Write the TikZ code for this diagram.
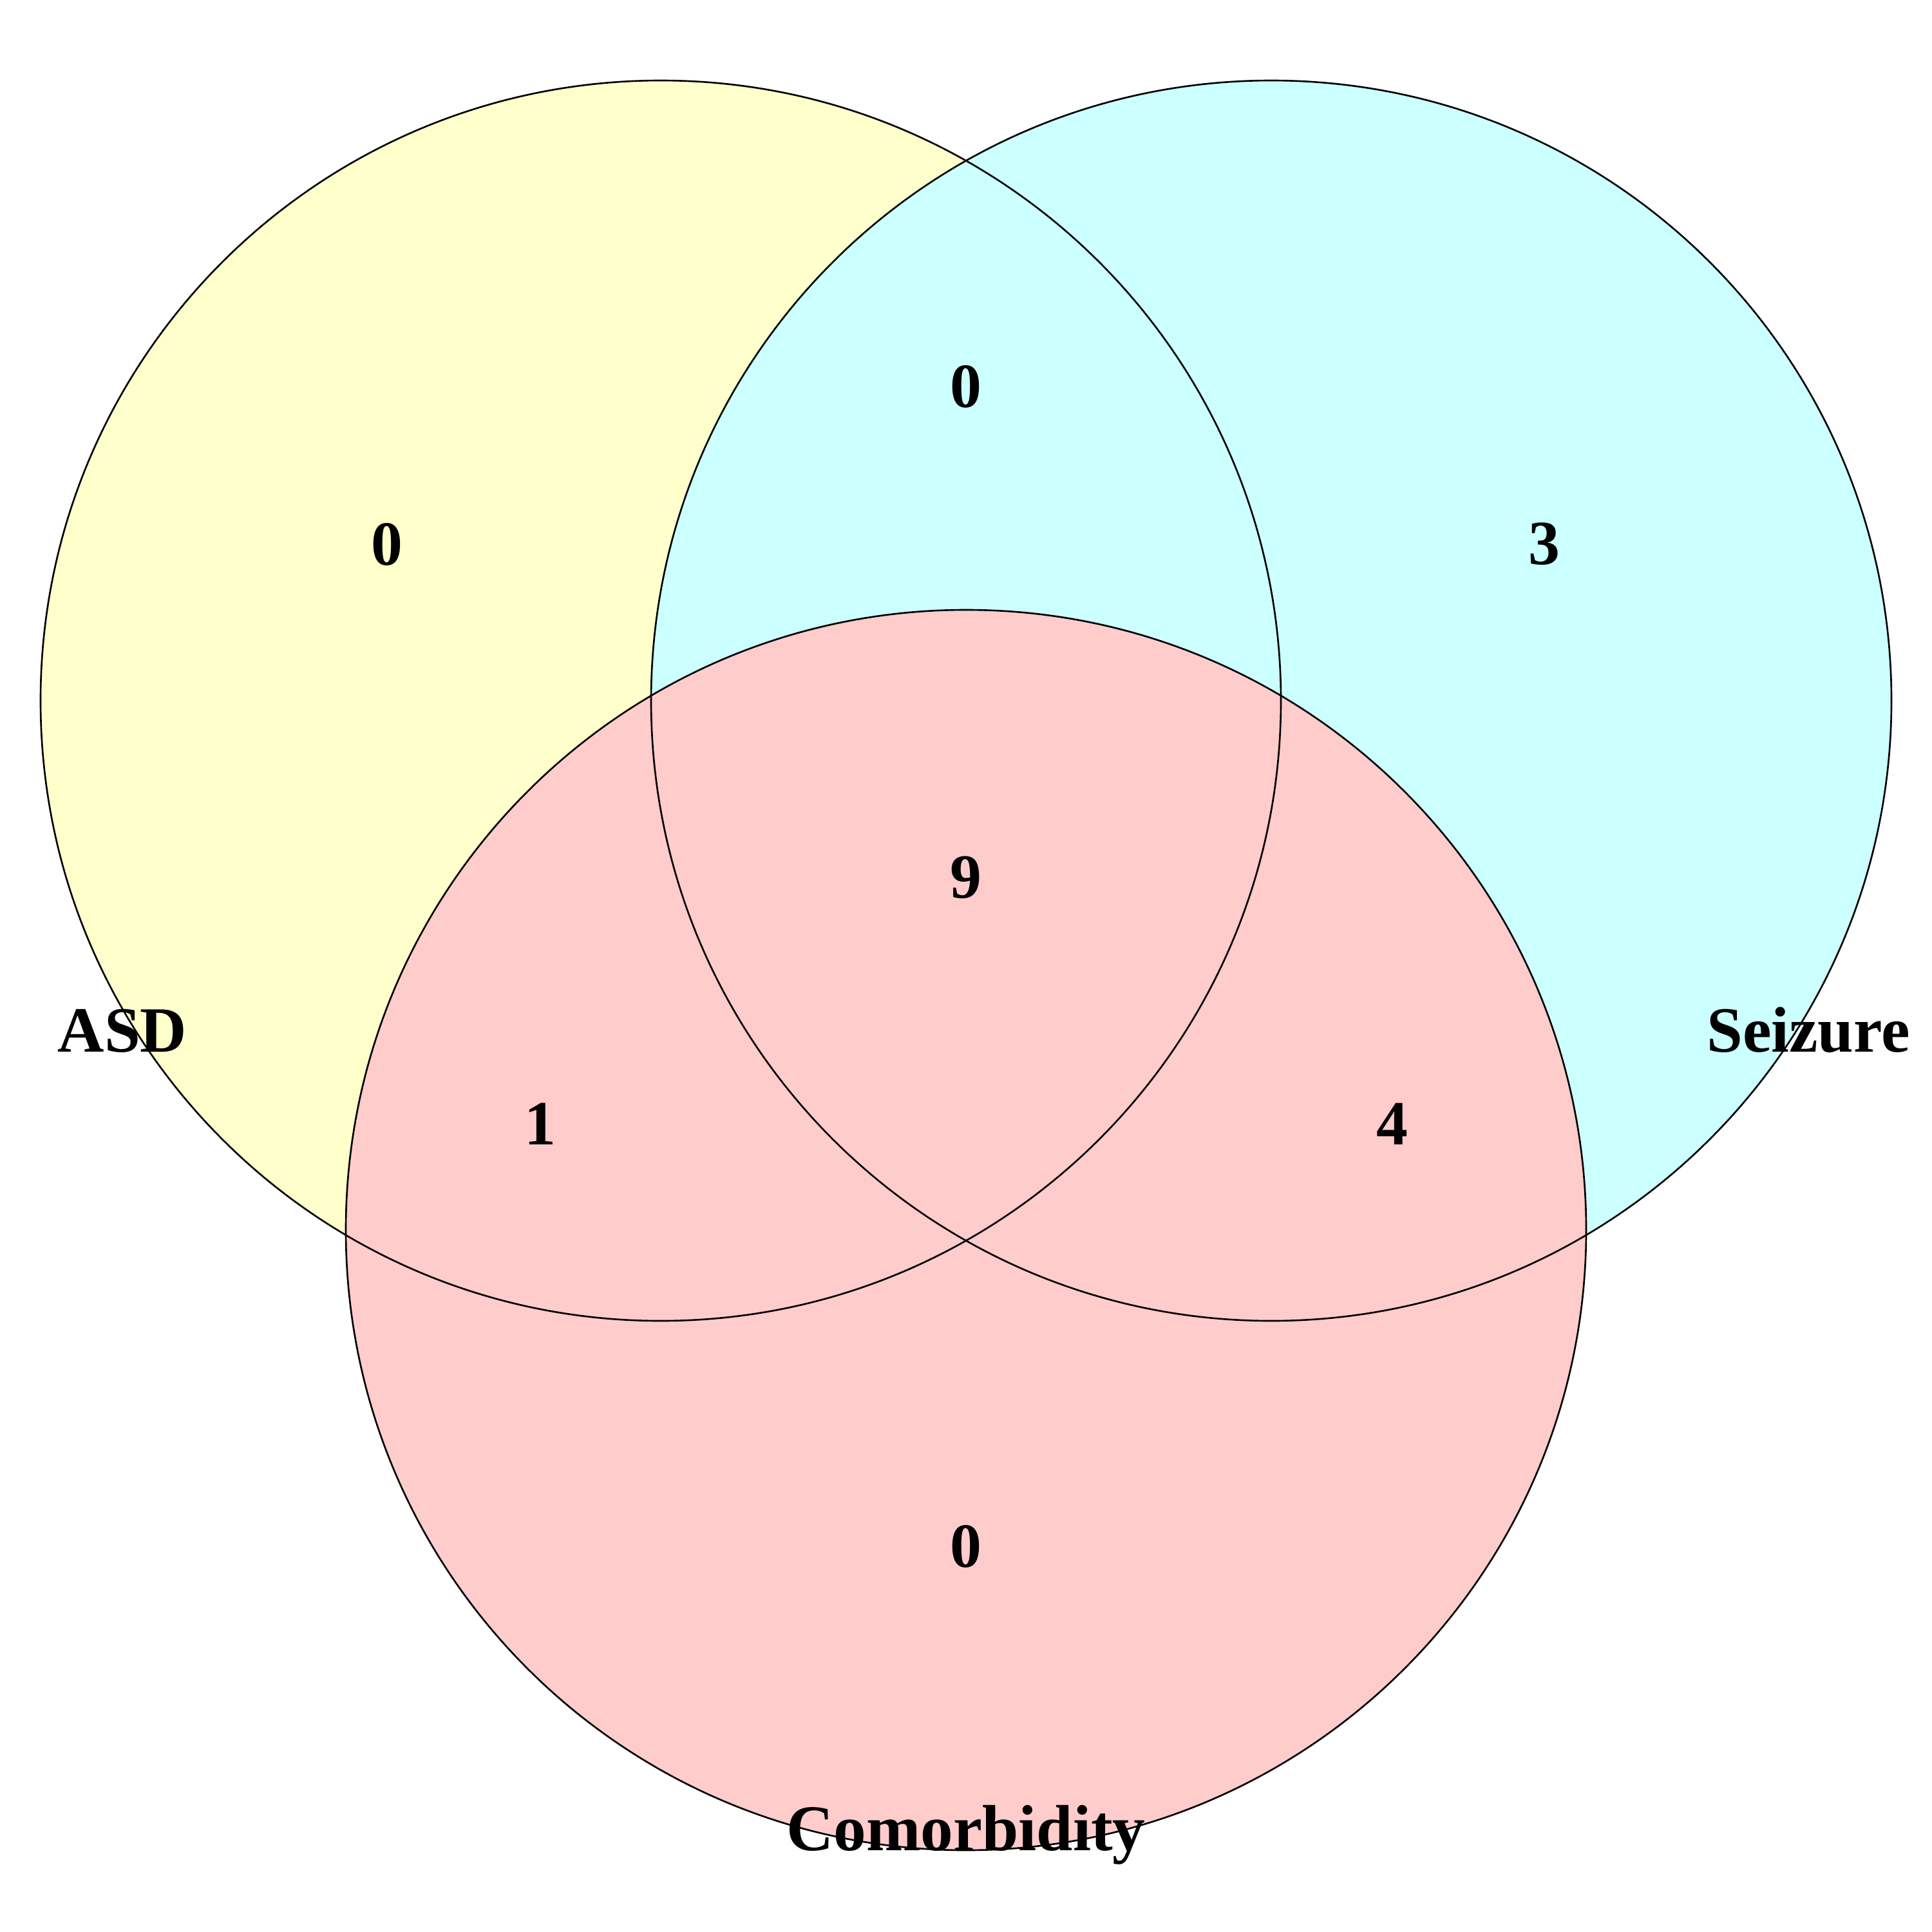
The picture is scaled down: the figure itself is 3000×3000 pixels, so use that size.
\documentclass[tikz,border=0pt]{standalone}
\usepackage{fontspec}
\setmainfont{Liberation Serif}
\begin{document}
\begin{tikzpicture}[x=0.01cm,y=-0.01cm,
  setline/.style={draw=black,line width=0.75pt,fill=none},
  count/.style={font=\fontsize{27.8}{33}\selectfont\bfseries,inner sep=0pt,anchor=center},
  setname/.style={font=\fontsize{28.5}{34}\selectfont\bfseries,inner sep=0pt,anchor=base}]
\useasboundingbox (0,0) rectangle (3000,3000);
\definecolor{asdcol}{RGB}{255,255,204}
\definecolor{seicol}{RGB}{204,255,255}
\definecolor{comcol}{RGB}{255,204,204}
\coordinate (A) at (1026,1088);
\coordinate (B) at (1974,1088);
\coordinate (C) at (1500,1910);
\fill[asdcol] (A) circle[radius=963];
\fill[seicol] (B) circle[radius=963];
\fill[comcol] (C) circle[radius=963];
\draw[setline] (A) circle[radius=963];
\draw[setline] (B) circle[radius=963];
\draw[setline] (C) circle[radius=963];
\node[count] (nA) at (601,845) {0};
\node[count] (nAB) at (1500,600) {0};
\node[count] (nB) at (2398,845) {3};
\node[count] (nABC) at (1500,1363) {9};
\node[count] (nAC) at (839,1745) {1};
\node[count] (nBC) at (2162,1745) {4};
\node[count] (nC) at (1500,2401) {0};
\node[setname] (lA) at (190,1633) {ASD};
\node[setname] (lB) at (2808,1633) {Seizure};
\node[setname,font=\fontsize{28.8}{34}\selectfont\bfseries] (lC) at (1500,2873) {Comorbidity};
\end{tikzpicture}
\end{document}
